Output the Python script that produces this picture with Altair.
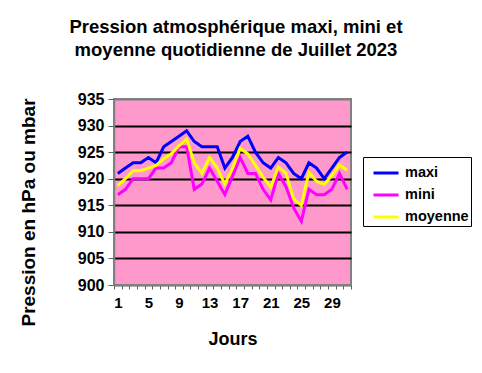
import altair as alt
import pandas as pd

days = list(range(1, 32))
maxi = [921, 922, 923, 923, 924, 923, 926, 927, 928, 929, 927, 926, 926, 926, 922, 924,
        927, 928, 925, 923, 922, 924, 923, 921, 920, 923, 922, 920, 922, 924, 925]
mini = [917, 918, 920, 920, 920, 922, 922, 923, 926, 926, 918, 919, 922, 919.5, 917, 920.5,
        924, 921, 921, 918, 916, 921, 918.5, 914.5, 912, 918, 917, 917, 918, 921, 918]
moyenne = [918.7, 920, 921.5, 921.5, 922, 922.5, 923.7, 924.7, 926.2, 927.5, 923, 921, 924, 922,
           919, 922, 925.7, 924.7, 922.5, 920.3, 918.4, 922.2, 921, 916.2, 915, 921.2, 919.5,
           918.9, 920.6, 922.6, 921.6]
series = ["maxi", "mini", "moyenne"]
colors = ["#0000FF", "#FF00FF", "#FFFF00"]
y_ticks = [900, 905, 910, 915, 920, 925, 930, 935]
x_ticks = [d - 0.5 for d in range(1, 33)]

rows = []
for name, vals in zip(series, [maxi, mini, moyenne]):
    for d, v in zip(days, vals):
        rows.append({"Jour": d, "Pression": v, "Serie": name})
df = pd.DataFrame(rows)

FONT = "Liberation Sans"

chart = alt.Chart(df).mark_line(strokeWidth=3, clip=True).encode(
    x=alt.X("Jour:Q",
            scale=alt.Scale(domain=[0.5, 31.5], nice=False, zero=False),
            axis=alt.Axis(values=x_ticks, title="Jours",
                          labelExpr="((datum.value + 0.5 - 1) % 4 == 0 && datum.value < 31) ? '' + (datum.value + 0.5) : ''",
                          labelOffset=3.82, labelOverlap=False, labelFlush=False, labelBound=False,
                          labelFont=FONT, labelFontSize=15, labelFontWeight="bold", labelColor="black",
                          labelPadding=6,
                          tickSize=4, tickColor="#606060", domainColor="#808080", domainWidth=1.5,
                          grid=False,
                          titleFont=FONT, titleFontSize=18, titleFontWeight="bold", titleColor="black",
                          titleY=54, titleBaseline="middle")),
    y=alt.Y("Pression:Q",
            scale=alt.Scale(domain=[900, 935], nice=False, zero=False),
            axis=alt.Axis(values=y_ticks, title="Pression en hPa ou mbar",
                          labelFont=FONT, labelFontSize=16, labelFontWeight="bold", labelColor="black",
                          labelPadding=4, tickSize=6, tickColor="#606060",
                          domainColor="#808080", domainWidth=1.5,
                          grid=True, gridWidth=2,
                          gridColor={"condition": {"test": "datum.value >= 935 || datum.value <= 900", "value": "#808080"}, "value": "black"},
                          titleFont=FONT, titleFontSize=19, titleFontWeight="bold", titleColor="black",
                          titleX=-86, titleY=113, titleAngle=270, titleAlign="center", titleBaseline="middle")),
    color=alt.Color("Serie:N",
                    scale=alt.Scale(domain=series, range=colors),
                    legend=alt.Legend(title=None, orient="none", legendX=249, legendY=58,
                                      strokeColor="black", fillColor="white", padding=2,
                                      symbolType="stroke", symbolStrokeWidth=3, symbolSize=625,
                                      symbolOffset=7, labelOffset=5, rowPadding=1,
                                      labelFont=FONT, labelFontSize=14.5, labelFontWeight="bold",
                                      labelColor="black")),
).properties(
    width=237, height=186,
    background="white",
    autosize=alt.AutoSizeParams(type="none"),
    padding={"left": 106, "top": 91, "right": 123, "bottom": 80},
    title=alt.TitleParams(["Pression atmosphérique maxi, mini et", "moyenne quotidienne de Juillet 2023"],
                          font=FONT, fontSize=18.5, fontWeight="bold", color="black",
                          lineHeight=23, anchor="middle", dx=3.5, offset=32),
).configure_view(
    fill="#FF99CC", stroke="#808080", strokeWidth=2
)

chart.save("out.html", embed_options={"renderer": "svg", "actions": False})
